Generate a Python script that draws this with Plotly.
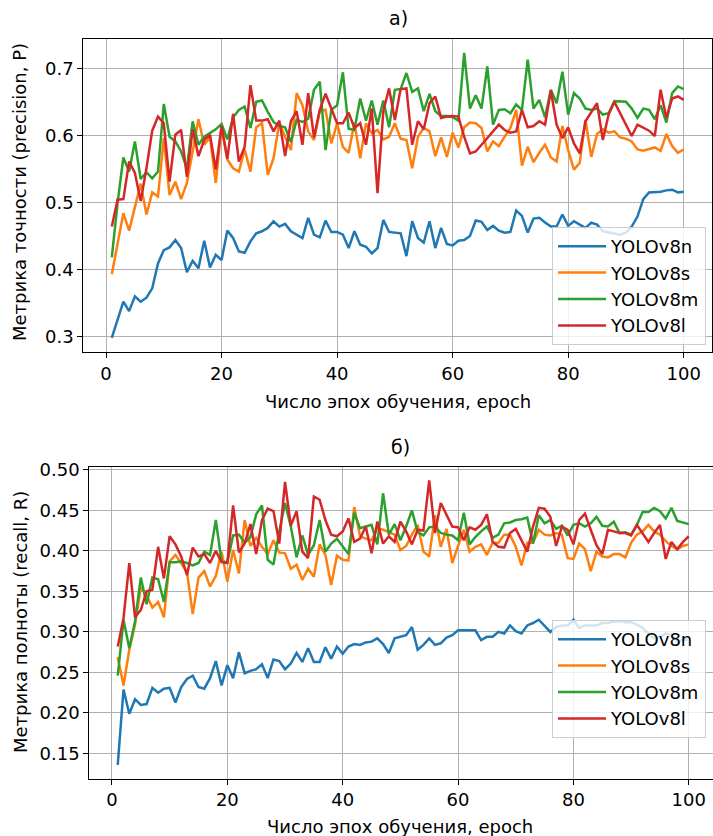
import plotly.graph_objects as go

epochs = list(range(1, 101))
series_names = ["YOLOv8n", "YOLOv8s", "YOLOv8m", "YOLOv8l"]
colors = ["#1f77b4", "#ff7f0e", "#2ca02c", "#d62728"]

# ---- a) precision ----
prec_n = [0.298, 0.325, 0.352, 0.338, 0.360, 0.352, 0.358, 0.372, 0.409, 0.429,
          0.433, 0.444, 0.432, 0.396, 0.413, 0.402, 0.443, 0.403, 0.422, 0.414,
          0.458, 0.447, 0.427, 0.425, 0.442, 0.454, 0.457, 0.462, 0.472, 0.464,
          0.468, 0.457, 0.452, 0.447, 0.477, 0.452, 0.448, 0.473, 0.456, 0.456,
          0.452, 0.432, 0.457, 0.437, 0.434, 0.424, 0.432, 0.474, 0.456, 0.455,
          0.454, 0.420, 0.472, 0.447, 0.440, 0.472, 0.432, 0.462, 0.438, 0.436,
          0.443, 0.444, 0.450, 0.473, 0.471, 0.459, 0.465, 0.458, 0.455, 0.456,
          0.488, 0.480, 0.455, 0.476, 0.477, 0.470, 0.464, 0.464, 0.482, 0.465,
          0.472, 0.467, 0.462, 0.470, 0.467, 0.457, 0.455, 0.453, 0.452, 0.455,
          0.464, 0.479, 0.505, 0.515, 0.515, 0.516, 0.518, 0.519, 0.515, 0.516]
prec_s = [0.393, 0.439, 0.484, 0.458, 0.492, 0.528, 0.482, 0.515, 0.509, 0.596,
          0.511, 0.531, 0.505, 0.529, 0.576, 0.624, 0.586, 0.597, 0.529, 0.612,
          0.564, 0.551, 0.546, 0.579, 0.546, 0.612, 0.618, 0.541, 0.566, 0.619,
          0.598, 0.578, 0.663, 0.645, 0.606, 0.593, 0.636, 0.638, 0.588, 0.618,
          0.583, 0.574, 0.619, 0.566, 0.618, 0.603, 0.608, 0.594, 0.598, 0.618,
          0.595, 0.593, 0.551, 0.598, 0.611, 0.606, 0.569, 0.597, 0.568, 0.604,
          0.582, 0.612, 0.619, 0.618, 0.611, 0.576, 0.591, 0.584, 0.598, 0.611,
          0.638, 0.555, 0.583, 0.560, 0.574, 0.586, 0.567, 0.561, 0.614, 0.578,
          0.549, 0.559, 0.623, 0.568, 0.602, 0.609, 0.604, 0.606, 0.597, 0.595,
          0.591, 0.579, 0.577, 0.579, 0.582, 0.577, 0.602, 0.584, 0.574, 0.579]
prec_m = [0.418, 0.499, 0.567, 0.546, 0.591, 0.535, 0.545, 0.536, 0.546, 0.647,
          0.598, 0.591, 0.576, 0.551, 0.621, 0.586, 0.598, 0.603, 0.609, 0.617,
          0.594, 0.627, 0.638, 0.643, 0.611, 0.650, 0.652, 0.635, 0.620, 0.614,
          0.612, 0.590, 0.623, 0.620, 0.625, 0.668, 0.680, 0.578, 0.638, 0.645,
          0.694, 0.610, 0.608, 0.655, 0.622, 0.652, 0.616, 0.652, 0.612, 0.668,
          0.669, 0.693, 0.665, 0.670, 0.636, 0.662, 0.636, 0.629, 0.629, 0.627,
          0.622, 0.723, 0.640, 0.660, 0.640, 0.703, 0.616, 0.638, 0.639, 0.633,
          0.646, 0.638, 0.713, 0.640, 0.653, 0.627, 0.668, 0.648, 0.695, 0.631,
          0.663, 0.655, 0.640, 0.638, 0.640, 0.631, 0.633, 0.651, 0.650, 0.650,
          0.640, 0.626, 0.640, 0.638, 0.624, 0.645, 0.619, 0.663, 0.673, 0.669]
prec_l = [0.464, 0.504, 0.505, 0.561, 0.544, 0.502, 0.551, 0.607, 0.628, 0.618,
          0.531, 0.601, 0.608, 0.538, 0.609, 0.569, 0.593, 0.601, 0.549, 0.614,
          0.565, 0.632, 0.561, 0.583, 0.675, 0.622, 0.622, 0.624, 0.606, 0.622,
          0.569, 0.621, 0.636, 0.586, 0.663, 0.597, 0.638, 0.662, 0.640, 0.618,
          0.618, 0.634, 0.611, 0.618, 0.586, 0.640, 0.514, 0.636, 0.670, 0.623,
          0.669, 0.670, 0.586, 0.621, 0.609, 0.648, 0.658, 0.626, 0.628, 0.629,
          0.628, 0.598, 0.573, 0.576, 0.586, 0.596, 0.607, 0.616, 0.608, 0.604,
          0.606, 0.638, 0.612, 0.614, 0.621, 0.616, 0.667, 0.616, 0.596, 0.612,
          0.588, 0.573, 0.621, 0.634, 0.648, 0.593, 0.631, 0.650, 0.633, 0.616,
          0.599, 0.616, 0.611, 0.607, 0.599, 0.668, 0.626, 0.655, 0.658, 0.653]

# ---- б) recall ----
rec_n = [0.136, 0.229, 0.199, 0.217, 0.210, 0.211, 0.231, 0.225, 0.230, 0.231,
         0.213, 0.232, 0.242, 0.246, 0.232, 0.230, 0.243, 0.264, 0.234, 0.259,
         0.243, 0.275, 0.249, 0.252, 0.254, 0.260, 0.243, 0.266, 0.264, 0.254,
         0.261, 0.274, 0.263, 0.280, 0.263, 0.263, 0.281, 0.267, 0.282, 0.273,
         0.282, 0.285, 0.284, 0.287, 0.288, 0.292, 0.285, 0.274, 0.292, 0.294,
         0.296, 0.306, 0.278, 0.284, 0.292, 0.284, 0.286, 0.293, 0.296, 0.302,
         0.302, 0.302, 0.302, 0.290, 0.294, 0.294, 0.300, 0.298, 0.308, 0.301,
         0.298, 0.308, 0.311, 0.315, 0.308, 0.300, 0.306, 0.308, 0.308, 0.315,
         0.305, 0.308, 0.308, 0.308, 0.311, 0.311, 0.313, 0.313, 0.312, 0.312,
         0.309, 0.305, 0.298, 0.292, 0.294, 0.298, 0.297, 0.288, 0.290, 0.291]
rec_s = [0.269, 0.234, 0.278, 0.309, 0.355, 0.345, 0.330, 0.337, 0.318, 0.387,
         0.395, 0.385, 0.374, 0.322, 0.367, 0.375, 0.356, 0.369, 0.399, 0.362,
         0.401, 0.372, 0.438, 0.406, 0.416, 0.405, 0.396, 0.413, 0.398, 0.397,
         0.378, 0.383, 0.364, 0.378, 0.368, 0.408, 0.395, 0.358, 0.394, 0.389,
         0.388, 0.454, 0.418, 0.415, 0.413, 0.428, 0.426, 0.423, 0.420, 0.401,
         0.406, 0.420, 0.432, 0.399, 0.393, 0.444, 0.405, 0.427, 0.385, 0.406,
         0.426, 0.399, 0.405, 0.408, 0.395, 0.410, 0.410, 0.420, 0.420, 0.405,
         0.382, 0.410, 0.410, 0.426, 0.420, 0.419, 0.422, 0.420, 0.391, 0.390,
         0.409, 0.402, 0.375, 0.399, 0.393, 0.392, 0.396, 0.396, 0.392, 0.410,
         0.420, 0.424, 0.432, 0.424, 0.420, 0.412, 0.406, 0.402, 0.406, 0.408]
rec_m = [0.246, 0.315, 0.280, 0.313, 0.367, 0.334, 0.367, 0.365, 0.337, 0.386,
         0.386, 0.387, 0.385, 0.382, 0.385, 0.399, 0.395, 0.438, 0.387, 0.386,
         0.419, 0.420, 0.410, 0.417, 0.445, 0.456, 0.389, 0.383, 0.424, 0.459,
         0.430, 0.392, 0.419, 0.395, 0.407, 0.438, 0.399, 0.409, 0.415, 0.406,
         0.396, 0.447, 0.428, 0.430, 0.432, 0.408, 0.471, 0.420, 0.433, 0.413,
         0.430, 0.450, 0.423, 0.419, 0.429, 0.430, 0.422, 0.420, 0.419, 0.413,
         0.447, 0.408, 0.417, 0.424, 0.430, 0.416, 0.420, 0.434, 0.435, 0.438,
         0.439, 0.441, 0.409, 0.444, 0.434, 0.438, 0.427, 0.431, 0.419, 0.432,
         0.434, 0.430, 0.434, 0.442, 0.431, 0.430, 0.436, 0.422, 0.423, 0.420,
         0.432, 0.448, 0.448, 0.453, 0.449, 0.440, 0.453, 0.437, 0.435, 0.433]
rec_l = [0.282, 0.317, 0.385, 0.318, 0.327, 0.350, 0.352, 0.405, 0.366, 0.418,
         0.408, 0.393, 0.370, 0.404, 0.393, 0.396, 0.385, 0.400, 0.386, 0.385,
         0.456, 0.398, 0.409, 0.433, 0.396, 0.438, 0.452, 0.449, 0.409, 0.485,
         0.431, 0.449, 0.399, 0.391, 0.467, 0.463, 0.438, 0.420, 0.418, 0.424,
         0.440, 0.411, 0.415, 0.430, 0.397, 0.436, 0.409, 0.418, 0.411, 0.436,
         0.424, 0.408, 0.426, 0.425, 0.487, 0.422, 0.459, 0.444, 0.430, 0.429,
         0.413, 0.429, 0.426, 0.432, 0.445, 0.411, 0.405, 0.404, 0.422, 0.427,
         0.413, 0.399, 0.430, 0.453, 0.452, 0.442, 0.406, 0.430, 0.426, 0.408,
         0.438, 0.446, 0.426, 0.407, 0.396, 0.426, 0.424, 0.422, 0.422, 0.419,
         0.432, 0.422, 0.411, 0.422, 0.432, 0.390, 0.411, 0.402, 0.411, 0.418]

x_ticks = [0, 20, 40, 60, 80, 100]
prec_ticks = [0.3, 0.4, 0.5, 0.6, 0.7]
rec_ticks = [0.15, 0.20, 0.25, 0.30, 0.35, 0.40, 0.45, 0.50]

title_a = "а)"
title_b = "б)"
xlabel = "Число эпох обучения, epoch"
ylabel_a = "Метрика точности (precision, P)"
ylabel_b = "Метрика полноты (recall, R)"

W, H = 713, 836
FONT = "DejaVu Sans"
FS = 18

fig = go.Figure()
for name, col, ys in zip(series_names, colors, [prec_n, prec_s, prec_m, prec_l]):
    fig.add_trace(go.Scatter(x=epochs, y=ys, mode="lines", name=name,
                             line=dict(color=col, width=2.5),
                             xaxis="x", yaxis="y", legend="legend"))
for name, col, ys in zip(series_names, colors, [rec_n, rec_s, rec_m, rec_l]):
    fig.add_trace(go.Scatter(x=epochs, y=ys, mode="lines", name=name,
                             line=dict(color=col, width=2.5),
                             xaxis="x2", yaxis="y2", legend="legend2"))

def px_x(p):
    return p / W

def px_y(p):
    return 1 - p / H

axis_common = dict(showline=True, linecolor="black", linewidth=1, mirror=True,
                   ticks="outside", ticklen=5, tickwidth=1, tickcolor="black",
                   showgrid=True, gridcolor="#b0b0b0", gridwidth=1,
                   zeroline=False, automargin=False,
                   tickfont=dict(family=FONT, size=FS, color="black"))

def ann(text, px, py, size=FS, angle=0):
    return dict(text=text, x=px_x(px), y=px_y(py), xref="paper", yref="paper",
                xanchor="center", yanchor="middle", showarrow=False,
                textangle=angle, font=dict(family=FONT, size=size, color="black"))

legend_style = dict(xanchor="right", yanchor="bottom",
                    bgcolor="rgba(255,255,255,0.8)", bordercolor="#cccccc",
                    borderwidth=1, font=dict(family=FONT, size=FS, color="black"),
                    itemwidth=48, tracegroupgap=0)

fig.update_layout(
    width=W, height=H,
    margin=dict(l=0, r=0, t=0, b=0),
    paper_bgcolor="white", plot_bgcolor="white",
    font=dict(family=FONT, size=FS, color="black"),
    xaxis=dict(domain=[px_x(83.2), px_x(712.3)], range=[-3.95, 104.95],
               tickvals=x_ticks, anchor="y", **axis_common),
    yaxis=dict(domain=[px_y(352), px_y(38.8)], range=[0.277, 0.744],
               tickvals=prec_ticks, tickformat=".1f", anchor="x", **axis_common),
    xaxis2=dict(domain=[px_x(89.2), 1.0], range=[-3.95, 104.2],
                tickvals=x_ticks, anchor="y2", **axis_common),
    yaxis2=dict(domain=[px_y(778.5), px_y(466.7)], range=[0.1192, 0.5038],
                tickvals=rec_ticks, tickformat=".2f", anchor="x2", **axis_common),
    legend=dict(x=px_x(706), y=px_y(345), **legend_style),
    legend2=dict(x=px_x(706), y=px_y(738), **legend_style),
    annotations=[
        ann(title_a, 398, 18, size=19),
        ann(title_b, 400, 447, size=19),
        ann(xlabel, 398, 401),
        ann(xlabel, 400, 826),
        ann(ylabel_a, 20, 192, angle=-90),
        ann(ylabel_b, 20, 622, angle=-90),
    ],
)

fig.write_html("out.html")
